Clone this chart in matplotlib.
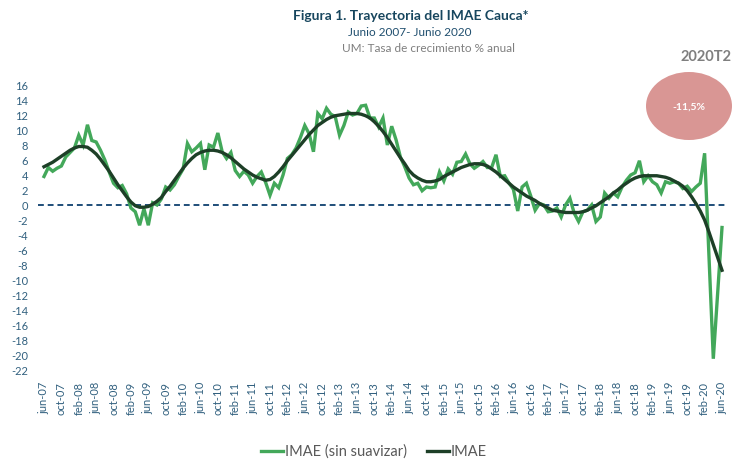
import numpy as np
import matplotlib
matplotlib.use("Agg")
import matplotlib.pyplot as plt
from matplotlib.patches import Ellipse
from matplotlib.lines import Line2D

plt.rcParams["font.family"] = ["Lato", "DejaVu Sans"]

''' Data '''
meses = ["jun", "oct", "feb"]
anios_ticks = ["07", "07", "08", "08", "08", "09", "09", "09", "10", "10", "10", "11", "11",
               "11", "12", "12", "12", "13", "13", "13", "14", "14", "14", "15", "15", "15",
               "16", "16", "16", "17", "17", "17", "18", "18", "18", "19", "19", "19", "20", "20"]
tick_labels = [f"{meses[k % 3]}-{a}" for k, a in enumerate(anios_ticks)]

# IMAE sin suavizar, jun-07 .. jun-20 (mensual)
imae_raw = [
    3.8, 5.0, 4.5, 4.9, 5.2, 6.4, 7.0, 7.6, 9.3, 8.0,
    10.7, 8.6, 8.4, 7.3, 6.0, 4.4, 2.9, 2.3, 2.6, 1.5,
    -0.4, -0.9, -2.7, -0.5, -2.7, 0.3, 0.0, 0.8, 2.4, 2.0,
    2.7, 3.8, 4.8, 8.2, 7.1, 7.6, 8.2, 4.7, 8.0, 7.7,
    9.6, 7.1, 6.2, 7.0, 4.6, 3.8, 4.5, 4.0, 2.9, 3.8,
    4.4, 3.0, 1.3, 2.9, 2.3, 4.0, 6.2, 6.7, 7.6, 9.0,
    10.6, 9.5, 7.1, 12.2, 11.5, 12.9, 12.1, 11.8, 9.3, 10.6,
    12.4, 12.0, 12.2, 13.2, 13.3, 11.6, 11.6, 10.4, 11.6, 8.0,
    10.5, 8.7, 6.4, 5.1, 3.6, 2.7, 2.9, 1.9, 2.4, 2.3,
    2.4, 4.4, 3.2, 4.8, 4.1, 5.7, 5.8, 6.8, 5.5, 4.9,
    5.3, 5.8, 5.0, 5.0, 6.7, 3.8, 3.9, 2.9, 2.1, -0.8,
    2.4, 2.9, 1.2, -0.7, 0.2, 0.0, -0.9, -0.8, -0.4, -1.6,
    0.0, 0.9, -1.1, -2.2, -0.9, -0.7, 0.0, -2.2, -1.6, 1.6,
    0.9, 1.6, 1.1, 2.4, 3.3, 4.0, 4.3, 5.9, 3.1, 3.9,
    3.1, 2.7, 1.6, 3.1, 2.9, 3.1, 2.9, 2.2, 2.5, 1.8,
    2.4, 2.9, 6.9, -6.8, -20.5, -11.8, -3.0,
]

# IMAE (suavizado)
imae_suav = [
    5.1, 5.4, 5.7, 6.1, 6.5, 6.9, 7.3, 7.6, 7.8, 7.8,
    7.7, 7.3, 6.8, 6.1, 5.3, 4.5, 3.6, 2.7, 1.9, 1.1,
    0.4, -0.1, -0.3, -0.3, -0.2, 0.1, 0.5, 1.0, 1.8, 2.5,
    3.3, 4.1, 4.9, 5.6, 6.2, 6.7, 7.0, 7.2, 7.3, 7.3,
    7.2, 7.0, 6.7, 6.3, 5.8, 5.3, 4.8, 4.4, 4.0, 3.7,
    3.5, 3.3, 3.4, 3.8, 4.4, 5.1, 5.9, 6.6, 7.3, 8.0,
    8.7, 9.4, 10.0, 10.6, 11.0, 11.4, 11.7, 11.9, 12.0, 12.1,
    12.2, 12.2, 12.2, 12.1, 11.9, 11.6, 11.1, 10.5, 9.8, 9.0,
    8.1, 7.2, 6.3, 5.5, 4.6, 4.0, 3.6, 3.3, 3.1, 3.1,
    3.2, 3.4, 3.8, 4.1, 4.4, 4.7, 5.0, 5.2, 5.4, 5.5,
    5.5, 5.4, 5.2, 4.8, 4.4, 3.9, 3.4, 2.9, 2.4, 2.0,
    1.6, 1.2, 0.9, 0.6, 0.2, -0.1, -0.4, -0.7, -0.8, -0.9,
    -1.0, -1.0, -1.0, -1.0, -0.9, -0.7, -0.4, -0.1, 0.3, 0.7,
    1.1, 1.6, 2.0, 2.5, 2.9, 3.3, 3.6, 3.8, 3.9, 3.9,
    3.9, 3.9, 3.8, 3.7, 3.5, 3.2, 2.9, 2.5, 1.9, 1.1,
    0.2, -0.8, -2.0, -3.6, -5.3, -7.0, -8.7,
]

y_ticks = list(range(-22, 18, 2))

''' Figure '''
c_axis = "#31607f"
fig = plt.figure(figsize=(7.39, 4.61), dpi=100)
ax = fig.add_axes([38 / 739, 91 / 461, 690 / 739, 285 / 461])

x = np.arange(len(imae_raw))
ax.axhline(0, color="#1f4e79", linestyle=(0, (3, 2)), linewidth=1.4, zorder=1)
ax.plot(x, imae_raw, color="#43a85a", linewidth=2.4, zorder=2, solid_joinstyle="miter")
ax.plot(x, imae_suav, color="#1d3f27", linewidth=2.4, zorder=3)

ax.set_xlim(-1.38, 157.38)
ax.set_ylim(-22, 16)
ax.set_yticks(y_ticks)
ax.set_yticklabels([str(v) for v in y_ticks])
ax.set_xticks(np.arange(0, len(imae_raw), 4))
ax.set_xticklabels(tick_labels, rotation=90)
ax.tick_params(axis="both", length=0, colors=c_axis)
ax.tick_params(axis="y", pad=7, labelsize=8)
ax.tick_params(axis="x", pad=8.5, labelsize=8)
for s in ax.spines.values():
    s.set_visible(False)

''' Titles '''
fig.text(411 / 739, 1 - 16 / 461, "Figura 1. Trayectoria del IMAE Cauca*", ha="center", va="center",
         fontsize=10, fontweight="bold", color="#17465e")
fig.text(410 / 739, 1 - 32 / 461, "Junio 2007- Junio 2020", ha="center", va="center",
         fontsize=8.5, color="#1f4e6e")
fig.text(428 / 739, 1 - 48 / 461, "UM: Tasa de crecimiento % anual", ha="center", va="center",
         fontsize=8.5, color="#7f7f7f")

''' Annotation 2020T2 '''
fig.text(706 / 739, 1 - 57 / 461, "2020T2", ha="center", va="center",
         fontsize=10.5, fontweight="bold", color="#7f7f7f")
ell = Ellipse((689 / 739, 1 - 106 / 461), 86 / 739, 68 / 461, transform=fig.transFigure,
              facecolor="#d99694", edgecolor="none")
fig.add_artist(ell)
fig.text(689 / 739, 1 - 107 / 461, "-11,5%", ha="center", va="center",
         fontsize=7.5, fontweight="bold", color="white")

''' Legend '''
handles = [Line2D([], [], color="#43a85a", linewidth=2.4),
           Line2D([], [], color="#1d3f27", linewidth=2.4)]
fig.legend(handles, ["IMAE (sin suavizar)", "IMAE"], loc="center", bbox_to_anchor=(374 / 739, 1 - 452 / 461),
           ncol=2, frameon=False, fontsize=10.5, labelcolor="#595959", handlelength=1.5,
           handletextpad=0.1, columnspacing=1.4)

fig.savefig("out.png", dpi=100)
